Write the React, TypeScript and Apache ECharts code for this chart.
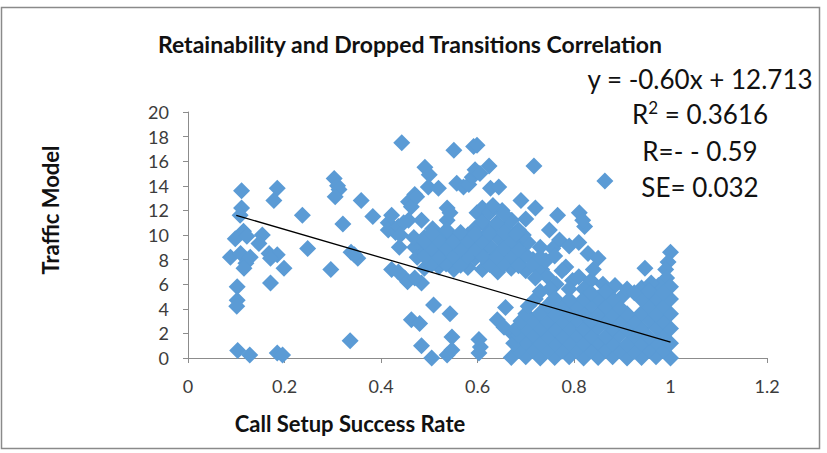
import { useEffect, useRef } from "react";
import * as echarts from "echarts";

const FONT = "Lato, 'Open Sans', sans-serif";

// Axis ranges and ticks
const xTicks = [0, 0.2, 0.4, 0.6, 0.8, 1, 1.2];
const yTicks = [0, 2, 4, 6, 8, 10, 12, 14, 16, 18, 20];

// Call setup success rate vs traffic model, low success-rate cells
const lowRatePoints: [number, number][] = [
  [0.111, 13.6], [0.111, 12.2], [0.108, 11.6], [0.115, 10.3], [0.098, 9.7], [0.122, 9.9],
  [0.088, 8.2], [0.109, 8.5], [0.12, 7.7], [0.116, 7.3], [0.129, 8.2], [0.102, 5.8],
  [0.102, 4.7], [0.101, 4.2], [0.103, 0.6], [0.128, 0.25],
  [0.154, 10.0], [0.147, 9.3], [0.168, 8.5], [0.185, 8.4], [0.171, 8.1], [0.199, 7.3],
  [0.171, 6.1], [0.185, 13.8], [0.178, 12.8], [0.185, 0.4], [0.196, 0.25],
  [0.237, 11.6], [0.248, 8.9], [0.296, 7.2], [0.303, 14.6], [0.31, 14.0], [0.313, 13.7],
  [0.305, 13.1], [0.321, 10.9], [0.338, 8.6], [0.352, 8.1], [0.345, 8.4], [0.359, 12.8],
  [0.336, 1.4], [0.383, 11.5],
];

// Mid-range cells, scattered
const midRatePoints: [number, number][] = [
  [0.415, 11.0], [0.422, 11.6], [0.415, 10.4], [0.43, 10.2], [0.436, 10.7], [0.443, 17.5],
  [0.438, 9.0], [0.422, 7.2], [0.436, 7.0], [0.449, 6.5], [0.455, 6.2], [0.457, 11.2],
  [0.457, 12.7], [0.463, 12.3], [0.47, 13.3], [0.474, 13.1], [0.447, 11.0], [0.44, 10.0],
  [0.463, 3.1], [0.48, 2.8], [0.484, 1.0], [0.484, 6.1], [0.47, 6.5], [0.491, 15.5],
  [0.5, 14.9], [0.498, 13.9], [0.509, 4.3], [0.543, 3.6], [0.547, 1.7], [0.505, 0.0],
  [0.537, 0.25], [0.547, 0.65], [0.519, 13.8], [0.537, 12.2], [0.537, 11.2], [0.484, 11.2],
  [0.543, 11.8], [0.551, 16.9], [0.592, 17.2], [0.599, 17.3], [0.557, 14.2], [0.571, 13.9],
  [0.582, 14.1], [0.589, 14.7], [0.595, 15.3], [0.605, 15.0], [0.624, 15.6], [0.627, 13.8],
  [0.644, 13.9], [0.599, 11.8], [0.61, 12.2], [0.651, 12.0], [0.603, 1.5], [0.606, 0.9],
  [0.603, 0.4], [0.641, 3.1], [0.658, 4.1], [0.655, 2.5], [0.672, 2.0],
  [0.47, 9.0], [0.475, 8.2], [0.468, 9.8],
];

// Dense band of mid-range cells around 7-12
const midClusterPoints: [number, number][] = [
  [0.49, 7.3], [0.52, 7.4], [0.551, 7.2], [0.58, 7.35], [0.61, 7.2], [0.642, 7.0], [0.67, 7.3], [0.70, 7.1], [0.733, 7.2],
  [0.505, 7.9], [0.534, 8.0], [0.566, 7.85], [0.595, 8.1], [0.624, 7.9], [0.655, 8.0], [0.686, 7.8], [0.715, 8.0], [0.742, 7.9],
  [0.49, 8.6], [0.52, 8.5], [0.55, 8.7], [0.582, 8.5], [0.61, 8.7], [0.64, 8.5], [0.671, 8.6], [0.70, 8.4],
  [0.506, 9.2], [0.536, 9.3], [0.565, 9.1], [0.596, 9.25], [0.626, 9.1], [0.655, 9.3], [0.684, 9.2], [0.705, 9.4],
  [0.49, 9.8], [0.52, 9.9], [0.551, 9.75], [0.58, 10.0], [0.611, 9.8], [0.64, 9.9], [0.669, 9.8], [0.695, 10.0],
  [0.507, 10.5], [0.536, 10.4], [0.594, 10.5], [0.625, 10.4], [0.656, 10.6], [0.685, 10.4],
  [0.61, 11.1], [0.64, 11.0], [0.671, 11.2], [0.70, 11.3],
  [0.625, 11.8], [0.655, 11.7], [0.632, 12.4], [0.69, 12.8], [0.72, 12.2], [0.717, 15.6],
  [0.505, 7.6], [0.535, 7.65], [0.565, 7.55], [0.625, 7.6], [0.655, 7.65], [0.685, 7.5], [0.715, 7.6],
  [0.49, 8.25], [0.52, 8.2], [0.55, 8.3], [0.58, 8.2], [0.61, 8.25], [0.64, 8.2], [0.67, 8.3], [0.73, 8.2],
  [0.505, 8.9], [0.535, 8.95], [0.565, 8.85], [0.595, 8.9], [0.655, 8.9], [0.685, 8.85],
  [0.49, 9.5], [0.52, 9.55], [0.55, 9.45], [0.58, 9.5], [0.61, 9.5], [0.67, 9.55],
  [0.505, 10.15], [0.565, 10.2], [0.595, 10.1], [0.625, 10.15], [0.655, 10.2], [0.68, 10.1],
];

// High success-rate cells, scattered above the main mass
const highRatePoints: [number, number][] = [
  [0.766, 11.6], [0.811, 11.8], [0.822, 10.7], [0.818, 11.2], [0.864, 14.4], [0.749, 10.4],
  [0.77, 9.6], [0.756, 8.9], [0.79, 9.1], [0.81, 9.4], [0.73, 9.0], [0.76, 8.3],
  [0.783, 7.4], [0.829, 8.5], [0.85, 8.1], [0.797, 6.3], [0.745, 6.6], [0.72, 6.5],
  [0.763, 6.0], [0.775, 7.1], [0.81, 6.6], [0.835, 6.3], [0.84, 7.2], [0.86, 6.0],
  [0.87, 5.2], [0.885, 5.9], [0.9, 5.0], [0.82, 5.6], [0.79, 5.6], [0.75, 5.6],
  [0.947, 7.3], [1.0, 8.6], [0.995, 7.8], [0.99, 7.2], [0.992, 6.5], [0.975, 5.9],
  [0.94, 5.7], [0.96, 6.1], [1.0, 5.8], [0.91, 5.6],
];

// Main mass of high success-rate cells, near zero traffic
const denseRatePoints: [number, number][] = [
  [0.67, 0.05], [0.70, 0.1], [0.73, 0.0], [0.76, 0.05], [0.79, 0.1], [0.82, 0.0], [0.85, 0.05], [0.88, 0.1], [0.91, 0.0], [0.94, 0.05], [0.97, 0.1], [1.0, 0.0],
  [0.685, 0.6], [0.715, 0.7], [0.745, 0.6], [0.775, 0.55], [0.805, 0.65], [0.835, 0.6], [0.865, 0.7], [0.895, 0.6], [0.925, 0.55], [0.955, 0.65], [0.985, 0.6],
  [0.675, 1.2], [0.70, 1.3], [0.73, 1.2], [0.76, 1.15], [0.79, 1.25], [0.82, 1.2], [0.85, 1.3], [0.88, 1.2], [0.91, 1.1], [0.94, 1.2], [0.97, 1.3], [1.0, 1.2],
  [0.685, 1.8], [0.715, 1.85], [0.745, 1.75], [0.775, 1.8], [0.805, 1.9], [0.835, 1.8], [0.865, 1.75], [0.895, 1.85], [0.925, 1.8], [0.955, 1.7], [0.985, 1.8],
  [0.68, 2.4], [0.70, 2.45], [0.73, 2.4], [0.76, 2.35], [0.79, 2.45], [0.82, 2.4], [0.85, 2.5], [0.88, 2.4], [0.91, 2.35], [0.94, 2.4], [0.97, 2.45], [1.0, 2.4],
  [0.69, 3.0], [0.715, 3.05], [0.745, 2.95], [0.775, 3.0], [0.805, 3.1], [0.835, 3.0], [0.865, 2.95], [0.895, 3.05], [0.925, 3.0], [0.955, 3.1], [0.985, 3.0],
  [0.70, 3.6], [0.73, 3.65], [0.76, 3.55], [0.79, 3.6], [0.82, 3.7], [0.85, 3.6], [0.88, 3.55], [0.91, 3.6], [0.94, 3.65], [0.97, 3.6], [1.0, 3.6],
  [0.705, 4.2], [0.745, 4.25], [0.775, 4.15], [0.805, 4.2], [0.835, 4.3], [0.865, 4.2], [0.895, 4.1], [0.955, 4.2], [0.985, 4.25],
  [0.72, 4.8], [0.76, 4.85], [0.79, 4.75], [0.82, 4.8], [0.85, 4.9], [0.88, 4.8], [0.94, 4.75], [0.97, 4.85], [1.0, 4.8],
  [0.73, 5.4], [0.835, 5.3], [0.865, 5.4], [0.925, 5.3], [0.955, 5.45], [0.985, 5.3],
];

// Linear trend drawn across the data range
const trendStart: [number, number] = [0.1, 11.6];
const trendEnd: [number, number] = [1.0, 1.3];

const titleText = "Retainability and Dropped Transitions Correlation";
const statLines = ["y = -0.60x + 12.713", "R{sup|2} = 0.3616", "R=- - 0.59", "SE= 0.032"];
const xTitle = "Call Setup Success Rate";
const yTitle = "Traffic Model";

const allPoints = [
  ...lowRatePoints,
  ...midRatePoints,
  ...midClusterPoints,
  ...highRatePoints,
  ...denseRatePoints,
];

function fmt(v: number) {
  return String(Number(v.toFixed(1)));
}

export default function App() {
  const ref = useRef<HTMLDivElement>(null);

  useEffect(() => {
    const chart = echarts.init(ref.current!, null, { renderer: "svg" });
    const axisGray = "#8c8c8c";
    const statY = [79, 114, 151, 187];
    const centered = {
      fontFamily: FONT,
      fill: "#111",
      align: "center",
      verticalAlign: "middle",
      textAlign: "center",
      textVerticalAlign: "middle",
    };
    chart.setOption({
      animation: false,
      backgroundColor: "#ffffff",
      textStyle: { fontFamily: FONT },
      grid: { left: 188, top: 112, width: 579, height: 246 },
      xAxis: {
        type: "value",
        min: xTicks[0],
        max: xTicks[xTicks.length - 1],
        interval: 0.2,
        axisLine: { show: true, lineStyle: { color: axisGray, width: 1 } },
        axisTick: { show: true, length: 5, lineStyle: { color: axisGray } },
        splitLine: { show: false },
        axisLabel: { color: "#3c3c3c", fontSize: 18, fontFamily: FONT, margin: 19, formatter: fmt },
      },
      yAxis: {
        type: "value",
        min: yTicks[0],
        max: yTicks[yTicks.length - 1],
        interval: 2,
        axisLine: { show: true, lineStyle: { color: axisGray, width: 1 } },
        axisTick: { show: true, length: 5, lineStyle: { color: axisGray } },
        splitLine: { show: false },
        axisLabel: { color: "#3c3c3c", fontSize: 18, fontFamily: FONT, margin: 19 },
      },
      series: [
        {
          type: "scatter",
          data: allPoints,
          symbol: "diamond",
          symbolSize: 17,
          itemStyle: { color: "#5B9BD5", opacity: 1 },
          z: 2,
        },
        {
          type: "line",
          data: [trendStart, trendEnd],
          symbol: "none",
          lineStyle: { color: "#000000", width: 1.3 },
          z: 3,
        },
      ],
      graphic: [
        {
          type: "rect",
          shape: { x: 1.5, y: 7.5, width: 818, height: 441 },
          style: { fill: "none", stroke: "#8a8a8a", lineWidth: 1.5 },
          silent: true,
        },
        {
          type: "text",
          x: 410,
          y: 44,
          style: { ...centered, text: titleText, fontSize: 23, fontWeight: "bold" },
        },
        ...statLines.map((t, i) => ({
          type: "text",
          x: 700,
          y: statY[i],
          z: 10,
          style: {
            ...centered,
            text: t,
            fontSize: 26,
            rich: {
              sup: {
                fontFamily: FONT,
                fontSize: 17,
                fill: "#111",
                verticalAlign: "top",
                lineHeight: 30,
              },
            },
          },
        })),
        {
          type: "text",
          x: 350,
          y: 423,
          style: { ...centered, text: xTitle, fontSize: 22, fontWeight: "bold" },
        },
        {
          type: "text",
          x: 50,
          y: 210,
          rotation: Math.PI / 2,
          style: { ...centered, text: yTitle, fontSize: 22, fontWeight: "bold" },
        },
      ],
    });
    return () => chart.dispose();
  }, []);

  return (
    <div
      ref={ref}
      style={{ position: "fixed", left: 0, top: 0, width: 827, height: 453, background: "#fff" }}
    />
  );
}
